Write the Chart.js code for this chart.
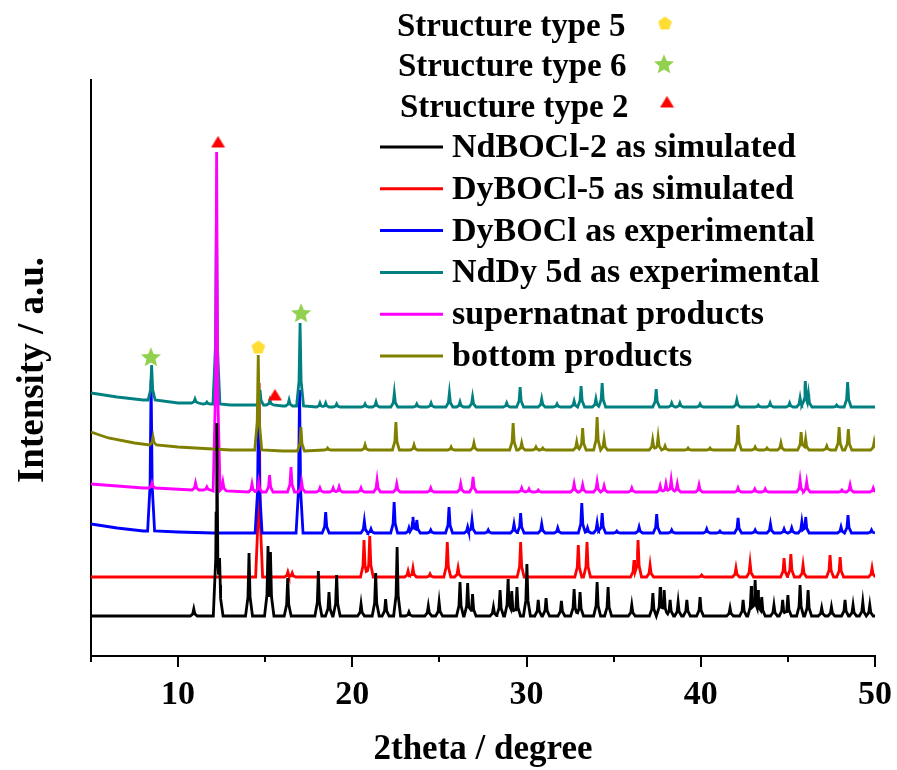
<!DOCTYPE html>
<html>
<head>
<meta charset="utf-8">
<script src="https://cdn.jsdelivr.net/npm/chart.js@4.4.0/dist/chart.umd.min.js"></script>
<style>
  html, body { margin: 0; padding: 0; background: #fff; }
  #wrap { width: 897px; height: 770px; }
</style>
</head>
<body>
<div id="wrap"><canvas id="xrd" width="897" height="770"></canvas></div>
<script>
// series names / colours (legend order, bottom trace first)
const seriesNames = ["NdBOCl-2 as simulated", "DyBOCl-5 as simulated", "DyBOCl as experimental",
                     "NdDy 5d as experimental", "supernatnat products", "bottom products"];
const seriesColors = ["#000000", "#ff0000", "#0000ff", "#008080", "#ff00ff", "#808000"];
// drawing order (lower = drawn later, on top); the simulated black trace sits above the rest
const seriesOrder = [1, 10, 9, 8, 7, 6];

// structure-type markers
const markerNames = ["Structure type 5", "Structure type 6", "Structure type 2"];
const markerColors = ["#ffdd33", "#92d050", "#ff0000"];
const type5Marks = [[14.6, 309]];
const type6Marks = [[8.44, 299], [17.06, 343]];
const type2Marks = [[12.29, 514], [15.56, 261]];

// x axis
const xTicks = [5, 10, 15, 20, 25, 30, 35, 40, 45, 50];
const xTickLabels = [10, 20, 30, 40, 50];

// each trace: baseline knots [2theta, I] and peaks [2theta, top, foot(optional)]
const ndSimBase = [[5, 40], [50, 40]];
const ndSimPeaks = [[10.9, 47], [12.22, 233], [12.38, 98], [14.07, 103], [15.16, 110], [15.3, 104],
  [16.29, 78], [18.05, 85], [18.66, 64], [19.1, 81], [20.5, 52], [21.34, 83], [21.91, 57], [22.57, 109],
  [23.25, 44], [24.36, 50], [24.98, 54], [26.18, 74], [26.62, 73], [26.9, 62], [28.1, 49], [28.48, 66],
  [28.94, 77], [29.15, 65], [29.45, 69], [30.02, 92], [30.67, 56], [31.12, 58], [32.0, 55], [32.73, 67],
  [33.07, 64], [34.05, 74], [34.68, 69], [36.04, 51], [37.25, 63], [37.67, 69], [37.9, 66], [38.24, 56],
  [38.7, 54], [39.2, 56], [39.96, 59], [41.68, 48], [42.43, 56], [42.9, 70], [43.12, 76], [43.3, 66],
  [43.5, 59], [44.2, 51], [44.7, 56], [45.0, 61], [45.7, 71], [46.16, 66], [46.94, 48], [47.5, 49],
  [48.28, 56], [48.74, 51], [49.3, 54], [49.7, 51]];

const dySimBase = [[5, 79], [50, 79]];
const dySimPeaks = [[14.65, 273], [16.3, 84], [16.55, 83], [20.67, 116], [21.0, 120], [23.2, 85],
  [23.48, 88], [24.46, 82], [25.45, 114], [26.07, 88], [29.66, 114], [32.97, 111], [33.47, 114],
  [36.17, 96], [36.4, 116], [37.09, 91], [40.05, 81], [42.02, 88], [42.83, 93], [44.78, 98],
  [45.17, 102], [45.87, 91], [47.42, 101], [48.0, 99], [49.83, 88]];

const dyExpBase = [[5, 132], [6.5, 128], [8, 125], [10, 124], [12, 123], [50, 123]];
const dyExpPeaks = [[8.45, 276, 125], [14.62, 262], [16.97, 266], [18.47, 144],
  [20.69, 135], [21.07, 127], [22.4, 154], [23.25, 128], [23.48, 139], [23.7, 136], [24.5, 126],
  [25.55, 149], [26.62, 129], [26.87, 136], [27.8, 126], [29.28, 132], [29.66, 143], [30.87, 132],
  [31.79, 128], [33.17, 153], [33.5, 128], [34.05, 133], [34.34, 143], [35.18, 125], [36.46, 129],
  [37.47, 142], [38.33, 126], [40.34, 127], [41.1, 125], [42.14, 138], [43.12, 126], [44.0, 132],
  [44.78, 127], [45.22, 128], [45.8, 134], [46.02, 139], [48.05, 129], [48.45, 141], [49.8, 126]];

const ndDyBase = [[5, 263], [6.5, 259], [8, 256], [10, 253], [13, 251], [16, 250], [25, 249], [50, 249]];
const ndDyPeaks = [[8.48, 291, 256], [10.97, 257, 253], [11.65, 254, 252], [12.2, 440, 252],
  [14.7, 266, 251], [15.27, 256, 251], [16.37, 256, 250], [17.0, 333, 250], [18.14, 253], [18.47, 253],
  [19.1, 252], [20.73, 252], [21.36, 254], [22.41, 263], [23.7, 252], [24.52, 253], [25.57, 263],
  [26.18, 254], [26.9, 259], [28.86, 253], [29.63, 269], [30.87, 257], [31.75, 252], [32.73, 255],
  [33.13, 270], [33.98, 257], [34.34, 273], [37.44, 267], [38.33, 253], [38.8, 253], [39.96, 252],
  [42.07, 256], [43.3, 251], [43.98, 253], [45.1, 253], [45.7, 258], [46.0, 275], [46.18, 262],
  [47.8, 251], [48.43, 274]];

const superBase = [[5, 172], [8, 168], [11, 166], [15, 164], [50, 164]];
const superPeaks = [[8.5, 173, 168], [11.0, 173, 166], [11.65, 169, 166], [12.21, 504, 165],
  [12.57, 174, 165], [14.24, 172], [14.62, 174], [15.25, 181], [16.48, 189], [17.09, 174], [18.14, 168],
  [18.9, 168], [19.24, 169], [20.5, 168], [21.42, 176], [22.55, 172], [24.5, 168], [26.22, 172],
  [26.93, 179], [29.72, 168], [30.14, 167], [30.67, 166], [32.73, 172], [33.22, 171], [34.05, 174],
  [34.45, 170], [36.04, 168], [37.67, 170], [38.0, 172], [38.3, 176], [38.65, 172], [39.9, 171],
  [42.14, 168], [43.1, 167], [43.7, 167], [45.7, 176], [46.08, 174], [48.1, 166], [48.57, 171],
  [49.9, 168]];

const bottomBase = [[5, 224], [6, 218], [7.5, 213], [10, 209], [13, 206], [16, 205], [50, 206]];
const bottomPeaks = [[8.56, 219, 211], [14.6, 301, 206], [17.05, 229, 205], [18.58, 208], [20.73, 211],
  [22.5, 234], [23.54, 211], [25.67, 209], [26.98, 213], [29.23, 233], [29.72, 213], [30.54, 209],
  [30.93, 208], [32.88, 214], [33.22, 228], [34.05, 239], [34.45, 217], [37.24, 216], [37.55, 219],
  [37.95, 210], [39.27, 208], [40.53, 208], [42.14, 231], [43.12, 209], [43.8, 208], [44.6, 213],
  [45.76, 224], [46.02, 217], [47.23, 210], [47.94, 229], [48.47, 227], [49.95, 214]];

const traces = [[ndSimBase, ndSimPeaks], [dySimBase, dySimPeaks], [dyExpBase, dyExpPeaks],
                [ndDyBase, ndDyPeaks], [superBase, superPeaks], [bottomBase, bottomPeaks]];

const FONT = '"Liberation Serif", "Times New Roman", serif';

// peak outline: offsets from the peak centre and fraction of peak height kept there
const shapeOff = [0, 0.06, 0.2];
const shapeFrac = [1, 0.3, 0];

// turn knots + peak list into a point list for the line
function buildTrace(base, peaks) {
  var level = base[base.length - 1][1];
  var span = shapeOff[shapeOff.length - 1];
  var list = peaks.map(p => ({x: p[0], top: p[1], foot: p.length > 2 ? p[2] : level}));

  function outline(p, x) {
    var d = Math.abs(x - p.x);
    if (d >= span) return p.foot;
    for (var k = 1; k < shapeOff.length; k++) {
      if (d <= shapeOff[k]) {
        var t = (d - shapeOff[k - 1]) / (shapeOff[k] - shapeOff[k - 1]);
        var f = shapeFrac[k - 1] + t * (shapeFrac[k] - shapeFrac[k - 1]);
        return p.foot + f * (p.top - p.foot);
      }
    }
    return p.foot;
  }

  var pts = [];
  list.forEach(p => {
    shapeOff.forEach((o, k) => {
      [-1, 1].forEach(s => {
        if (k == 0 && s > 0) return;
        var x = p.x + s * o;
        var y = p.foot;
        list.forEach(q => {
          if (Math.abs(x - q.x) < span) y = Math.max(y, outline(q, x));
        });
        pts.push({x: x, y: y});
      });
    });
  });
  base.forEach(b => {
    var inside = list.some(p => Math.abs(p.x - b[0]) <= span);
    if (!inside) pts.push({x: b[0], y: b[1]});
  });
  pts.sort((a, b) => a.x - b.x);
  return pts;
}

// small canvases used as point styles
function makeMarker(kind, color) {
  var size = kind == 'star' ? 22 : 15;
  var c = document.createElement('canvas');
  c.width = c.height = size;
  var g = c.getContext('2d');
  var cx = size / 2, cy = size / 2;
  g.fillStyle = color;
  g.beginPath();
  if (kind == 'star') {
    var ro = 10.5, ri = 4.8;
    for (var i = 0; i < 10; i++) {
      var r = i % 2 ? ri : ro;
      var a = -Math.PI / 2 + i * Math.PI / 5;
      g.lineTo(cx + r * Math.cos(a), cy + 0.8 + r * Math.sin(a));
    }
  } else if (kind == 'pentagon') {
    for (var i = 0; i < 5; i++) {
      var a = -Math.PI / 2 + i * 2 * Math.PI / 5;
      g.lineTo(cx + 7.2 * Math.cos(a), cy + 0.6 + 7.2 * Math.sin(a));
    }
  } else {
    g.moveTo(cx, 1.5);
    g.lineTo(size - 0.5, size - 2);
    g.lineTo(0.5, size - 2);
  }
  g.closePath();
  g.fill();
  return c;
}

const markerImgs = [makeMarker('pentagon', markerColors[0]), makeMarker('star', markerColors[1]),
                    makeMarker('triangle', markerColors[2])];

var datasets = traces.map((t, i) => ({
  label: seriesNames[i],
  data: buildTrace(t[0], t[1]),
  borderColor: seriesColors[i],
  backgroundColor: seriesColors[i],
  borderWidth: 2.8,
  pointRadius: 0,
  fill: false,
  tension: 0,
  order: seriesOrder[i]
}));

[type5Marks, type6Marks, type2Marks].forEach((m, i) => {
  datasets.push({
    label: markerNames[i],
    data: m.map(p => ({x: p[0], y: p[1]})),
    showLine: false,
    pointStyle: markerImgs[i],
    pointRadius: 8,
    clip: false,
    order: 0
  });
});

// axis ticks, tick labels, titles and legend
const decorations = {
  id: 'decorations',
  afterDraw(chart) {
    const ctx = chart.ctx;
    const xs = chart.scales.x;
    const bottom = chart.chartArea.bottom;
    ctx.save();
    ctx.strokeStyle = '#000';
    ctx.lineWidth = 2;
    xTicks.forEach(v => {
      var px = Math.round(xs.getPixelForValue(v));
      var len = v % 10 == 0 ? 11 : 6;
      ctx.beginPath();
      ctx.moveTo(px, bottom);
      ctx.lineTo(px, bottom + len);
      ctx.stroke();
    });
    ctx.fillStyle = '#000';
    ctx.font = 'bold 34px ' + FONT;
    ctx.textAlign = 'center';
    ctx.textBaseline = 'alphabetic';
    xTickLabels.forEach(v => {
      ctx.fillText(String(v), xs.getPixelForValue(v), 704);
    });

    ctx.font = 'bold 35px ' + FONT;
    ctx.fillText('2theta / degree', (chart.chartArea.left + chart.chartArea.right) / 2, 759);

    ctx.save();
    ctx.translate(43, 370);
    ctx.rotate(-Math.PI / 2);
    ctx.font = 'bold 37px ' + FONT;
    ctx.fillText('Intensity / a.u.', 0, 0);
    ctx.restore();

    // legend
    ctx.textAlign = 'left';
    ctx.font = 'bold 33px ' + FONT;
    var structX = [397, 398, 400], structY = [36, 76, 117];
    var markPos = [[665, 23], [664, 64], [667, 102]];
    markerNames.forEach((n, i) => {
      ctx.fillText(n, structX[i], structY[i]);
      var img = markerImgs[i];
      ctx.drawImage(img, markPos[i][0] - img.width / 2, markPos[i][1] - img.height / 2);
    });
    ctx.font = 'bold 34px ' + FONT;
    seriesNames.forEach((n, i) => {
      var y = 147 + i * 41.8;
      ctx.strokeStyle = seriesColors[i];
      ctx.lineWidth = 3;
      ctx.beginPath();
      ctx.moveTo(380, y);
      ctx.lineTo(443, y);
      ctx.stroke();
      ctx.fillText(n, 452, y + 10);
    });
    ctx.restore();
  }
};

new Chart(document.getElementById('xrd'), {
  type: 'line',
  data: { datasets: datasets },
  options: {
    responsive: false,
    animation: false,
    devicePixelRatio: 1,
    layout: { padding: { left: 91, right: 22, top: 80, bottom: 114 } },
    plugins: { legend: { display: false }, tooltip: { enabled: false } },
    scales: {
      x: {
        type: 'linear', min: 5, max: 50,
        afterFit: s => { s.height = 0; },
        ticks: { display: false },
        grid: { display: false },
        border: { display: true, color: '#000', width: 2 }
      },
      y: {
        min: 0, max: 576,
        afterFit: s => { s.width = 0; },
        ticks: { display: false },
        grid: { display: false },
        border: { display: true, color: '#000', width: 2 }
      }
    }
  },
  plugins: [decorations]
});
</script>
</body>
</html>
